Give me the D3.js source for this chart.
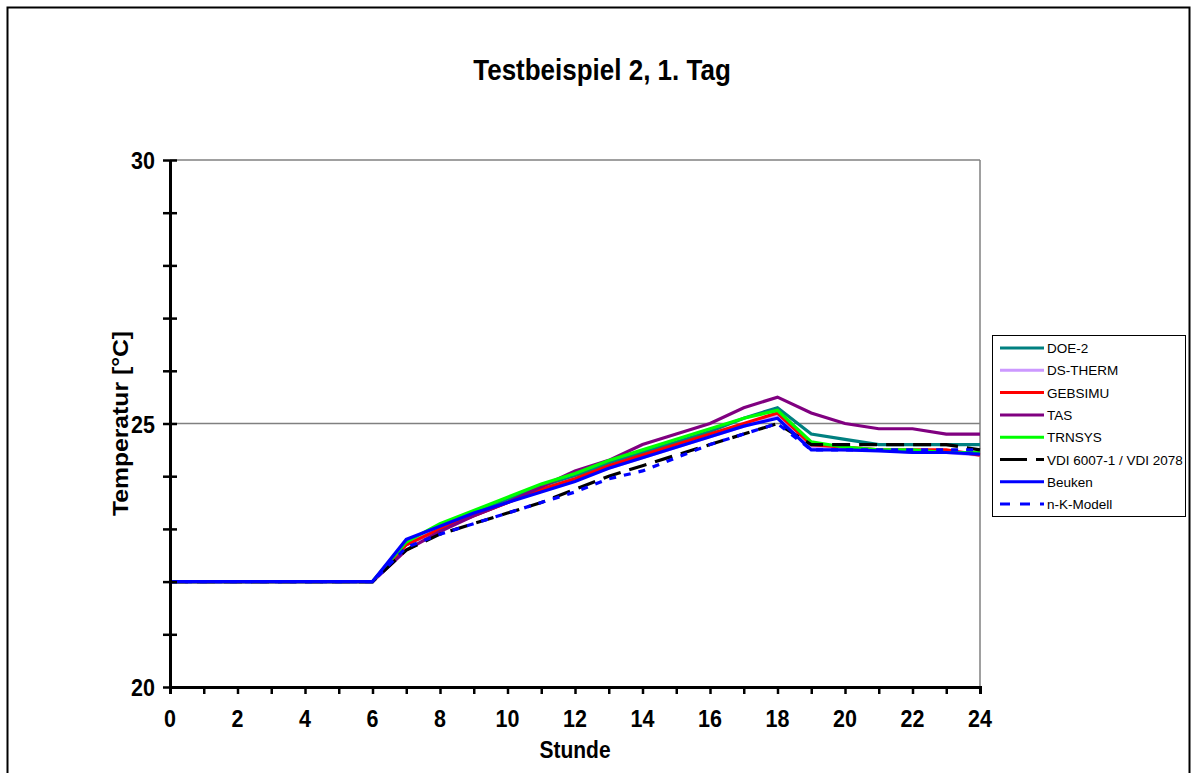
<!DOCTYPE html>
<html lang="de">
  <head>
    <meta charset="utf-8">
    <title>Testbeispiel 2, 1. Tag</title>
    <style>
      body { margin: 0; background: white; }
      svg { display: block; font-family: "Liberation Sans", Arial, sans-serif; }
    </style>
    <script src="https://d3js.org/d3.v7.min.js"></script>
  </head>
  <body>
    <div class="chart"></div>
    <script>
    // hours 0..24
    const hours = d3.range(0, 25);
    const flat = [22.0, 22.0, 22.0, 22.0, 22.0, 22.0, 22.0];

    const doe2    = flat.concat([22.7, 23.0, 23.3, 23.55, 23.8, 24.0, 24.25, 24.45, 24.65, 24.85, 25.1, 25.3, 24.8, 24.7, 24.6, 24.6, 24.6, 24.6]);
    const dsTherm = flat.concat([22.7, 23.0, 23.25, 23.5, 23.75, 23.95, 24.15, 24.35, 24.55, 24.75, 24.95, 25.15, 24.55, 24.5, 24.5, 24.45, 24.45, 24.4]);
    const gebsimu = flat.concat([22.7, 23.0, 23.25, 23.5, 23.75, 23.95, 24.2, 24.4, 24.6, 24.8, 25.0, 25.2, 24.6, 24.55, 24.5, 24.5, 24.5, 24.4]);
    const tas     = flat.concat([22.6, 22.95, 23.25, 23.5, 23.8, 24.1, 24.3, 24.6, 24.8, 25.0, 25.3, 25.5, 25.2, 25.0, 24.9, 24.9, 24.8, 24.8]);
    const trnsys  = flat.concat([22.75, 23.1, 23.35, 23.6, 23.85, 24.05, 24.3, 24.5, 24.7, 24.9, 25.1, 25.25, 24.65, 24.55, 24.5, 24.5, 24.45, 24.45]);
    const vdi     = flat.concat([22.6, 22.9, 23.1, 23.3, 23.5, 23.75, 24.0, 24.2, 24.4, 24.6, 24.8, 25.0, 24.6, 24.6, 24.6, 24.6, 24.6, 24.5]);
    const beuken  = flat.concat([22.8, 23.05, 23.3, 23.5, 23.7, 23.9, 24.15, 24.35, 24.55, 24.75, 24.95, 25.1, 24.5, 24.5, 24.48, 24.45, 24.45, 24.42]);
    const nkModell = flat.concat([22.65, 22.9, 23.1, 23.3, 23.5, 23.7, 23.95, 24.1, 24.35, 24.6, 24.8, 25.0, 24.5, 24.5, 24.5, 24.5, 24.5, 24.5]);

    const seriesNames = ["DOE-2", "DS-THERM", "GEBSIMU", "TAS", "TRNSYS", "VDI 6007-1 / VDI 2078", "Beuken", "n-K-Modell"];
    const seriesValues = [doe2, dsTherm, gebsimu, tas, trnsys, vdi, beuken, nkModell];
    const seriesColors = ["#008080", "#CC99FF", "#FF0000", "#800080", "#00FF00", "#000000", "#0000FF", "#0000FF"];
    const seriesDash = [null, null, null, null, null, "18,9", null, "7,8"];

    const xTicks = [0, 2, 4, 6, 8, 10, 12, 14, 16, 18, 20, 22, 24];
    const yTicks = [20, 25, 30];

    const W = 1191, H = 773;

    const svg = d3.select(".chart")
      .append("svg")
      .attr("width", W)
      .attr("height", H)
      .style("background-color", "white");

    // outer chart border
    svg.append("rect")
      .attr("x", 7.5)
      .attr("y", 7.5)
      .attr("width", 1182)
      .attr("height", 800)
      .attr("fill", "white")
      .attr("stroke", "#000")
      .attr("stroke-width", 2);

    const x = d3.scaleLinear().domain([0, 24]).range([170, 980]);
    const y = d3.scaleLinear().domain([20, 30]).range([687, 160]);

    // gridlines
    svg.append("g")
      .selectAll("line")
      .data([25, 30])
      .join("line")
      .attr("x1", x(0))
      .attr("x2", x(24))
      .attr("y1", d => y(d))
      .attr("y2", d => y(d))
      .attr("stroke", "#808080")
      .attr("stroke-width", 1.5);

    // right plot border
    svg.append("line")
      .attr("x1", x(24))
      .attr("x2", x(24))
      .attr("y1", y(30))
      .attr("y2", y(20))
      .attr("stroke", "#808080")
      .attr("stroke-width", 1.5);

    // series
    const line = d3.line()
      .x((d, i) => x(hours[i]))
      .y(d => y(d));

    seriesValues.forEach((vals, i) => {
      svg.append("path")
        .datum(vals)
        .attr("d", line)
        .attr("fill", "none")
        .attr("stroke", seriesColors[i])
        .attr("stroke-width", 3.2)
        .attr("stroke-dasharray", seriesDash[i]);
    });

    // axes
    const xAxis = svg.append("g")
      .attr("transform", `translate(0,${y(20)})`)
      .call(d3.axisBottom(x).ticks(24).tickSize(7).tickFormat(""));
    xAxis.select(".domain").attr("stroke-width", 3);
    xAxis.selectAll(".tick line").attr("stroke-width", 2.5);

    // Excel stretched the text a bit vertically, so scale glyphs on y
    svg.append("g")
      .selectAll("text")
      .data(xTicks)
      .join("text")
      .attr("transform", d => `translate(${x(d)},727) scale(1,1.15)`)
      .attr("text-anchor", "middle")
      .style("font-size", "21.5px")
      .style("font-weight", "bold")
      .text(d => d);

    const yAxis = svg.append("g")
      .attr("transform", `translate(${x(0)},0)`)
      .call(d3.axisLeft(y).ticks(10).tickSizeInner(7).tickSizeOuter(0).tickFormat(""));
    yAxis.select(".domain").attr("stroke-width", 3);
    yAxis.selectAll(".tick line").attr("x2", 7).attr("x1", -7).attr("stroke-width", 2.5);

    svg.append("g")
      .selectAll("text")
      .data(yTicks)
      .join("text")
      .attr("transform", d => `translate(155,${y(d) + 9}) scale(1,1.15)`)
      .attr("text-anchor", "end")
      .style("font-size", "21.5px")
      .style("font-weight", "bold")
      .text(d => d);

    // titles
    svg.append("text")
      .attr("transform", "translate(602,80) scale(1,1.15)")
      .attr("text-anchor", "middle")
      .style("font-size", "26px")
      .style("font-weight", "bold")
      .text("Testbeispiel 2, 1. Tag");

    svg.append("text")
      .attr("transform", "translate(575,758) scale(1,1.15)")
      .attr("text-anchor", "middle")
      .style("font-size", "21px")
      .style("font-weight", "bold")
      .text("Stunde");

    svg.append("text")
      .attr("transform", `translate(128,${y(25)}) rotate(-90) scale(1.15,1)`)
      .attr("text-anchor", "middle")
      .style("font-size", "21.5px")
      .style("font-weight", "bold")
      .text("Temperatur [°C]");

    // legend
    const legend = svg.append("g").attr("transform", "translate(992,335)");
    legend.append("rect")
      .attr("x", 0.5)
      .attr("y", 0.5)
      .attr("width", 193)
      .attr("height", 181)
      .attr("fill", "white")
      .attr("stroke", "#000")
      .attr("stroke-width", 1);

    const items = legend.selectAll("g.item")
      .data(seriesNames)
      .join("g")
      .attr("class", "item")
      .attr("transform", (d, i) => `translate(0,${13 + i * 22.3})`);

    items.append("line")
      .attr("x1", 8)
      .attr("x2", 52)
      .attr("stroke", (d, i) => seriesColors[i])
      .attr("stroke-width", 3)
      .attr("stroke-dasharray", (d, i) => seriesDash[i] ? (i === 5 ? "27,9" : "10,10") : null);

    items.append("text")
      .attr("x", 55)
      .attr("y", 5)
      .style("font-size", "13.5px")
      .text(d => d);
    </script>
  </body>
</html>
